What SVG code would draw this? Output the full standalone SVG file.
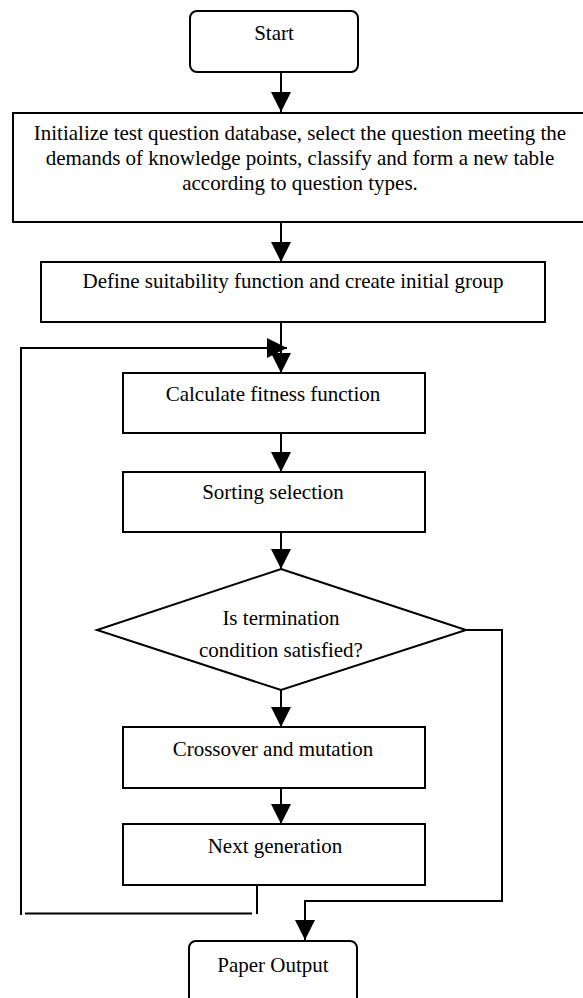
<svg xmlns="http://www.w3.org/2000/svg" width="583" height="998" viewBox="0 0 583 998">
<defs>
<style>
.box{fill:#fff;stroke:#000;stroke-width:2}
.ln{fill:none;stroke:#000;stroke-width:2}
.t{font-family:"Liberation Serif","Times New Roman",serif;font-size:21px;fill:#000;text-anchor:middle}
</style>
<marker id="ah" markerUnits="userSpaceOnUse" markerWidth="20" markerHeight="20" refX="20" refY="10" orient="auto" viewBox="0 0 20 20">
<path d="M0,0 L20,10 L0,20 z" fill="#000"/>
</marker>
</defs>
<rect width="583" height="998" fill="#fff"/>
<g id="connectors">
<line class="ln" x1="281" y1="72" x2="281" y2="112" marker-end="url(#ah)"/>
<line class="ln" x1="281" y1="222" x2="281" y2="262" marker-end="url(#ah)"/>
<line class="ln" x1="281" y1="322" x2="281" y2="373" marker-end="url(#ah)"/>
<polyline class="ln" points="21,915 21,348 287,348" marker-end="url(#ah)"/>
<line class="ln" x1="281" y1="433" x2="281" y2="472" marker-end="url(#ah)"/>
<line class="ln" x1="281" y1="532" x2="281" y2="569" marker-end="url(#ah)"/>
<line class="ln" x1="281" y1="690" x2="281" y2="727" marker-end="url(#ah)"/>
<line class="ln" x1="281" y1="788" x2="281" y2="824" marker-end="url(#ah)"/>
<line class="ln" x1="257" y1="885" x2="257" y2="914"/>
<line class="ln" x1="25" y1="913.5" x2="252" y2="913.5"/>
<polyline class="ln" points="466,630 502,630 502,901 305,901 305,940" marker-end="url(#ah)"/>
</g>
<g id="start">
<rect class="box" x="190" y="11" width="168" height="61" rx="7"/>
<text class="t" x="274" y="40">Start</text>
</g>
<g id="init">
<rect class="box" x="13" y="113" width="574" height="109"/>
<text class="t" x="300" y="140">Initialize test question database, select the question meeting the</text>
<text class="t" x="300" y="165">demands of knowledge points, classify and form a new table</text>
<text class="t" x="300" y="190">according to question types.</text>
</g>
<g id="define">
<rect class="box" x="41" y="262" width="504" height="60"/>
<text class="t" x="293" y="288">Define suitability function and create initial group</text>
</g>
<g id="calculate">
<rect class="box" x="123" y="373" width="302" height="60"/>
<text class="t" x="273" y="401">Calculate fitness function</text>
</g>
<g id="sorting">
<rect class="box" x="123" y="472" width="302" height="60"/>
<text class="t" x="273" y="499">Sorting selection</text>
</g>
<g id="decision">
<polygon class="box" points="281,569 466,630 281,690 97,630"/>
<text class="t" x="281" y="625">Is termination</text>
<text class="t" x="281" y="657">condition satisfied?</text>
</g>
<g id="crossover">
<rect class="box" x="123" y="727" width="302" height="61"/>
<text class="t" x="273" y="756">Crossover and mutation</text>
</g>
<g id="next">
<rect class="box" x="123" y="824" width="302" height="61"/>
<text class="t" x="275" y="853">Next generation</text>
</g>
<g id="output">
<rect class="box" x="189" y="941" width="168" height="64" rx="7"/>
<text class="t" x="273" y="972">Paper Output</text>
</g>
</svg>
